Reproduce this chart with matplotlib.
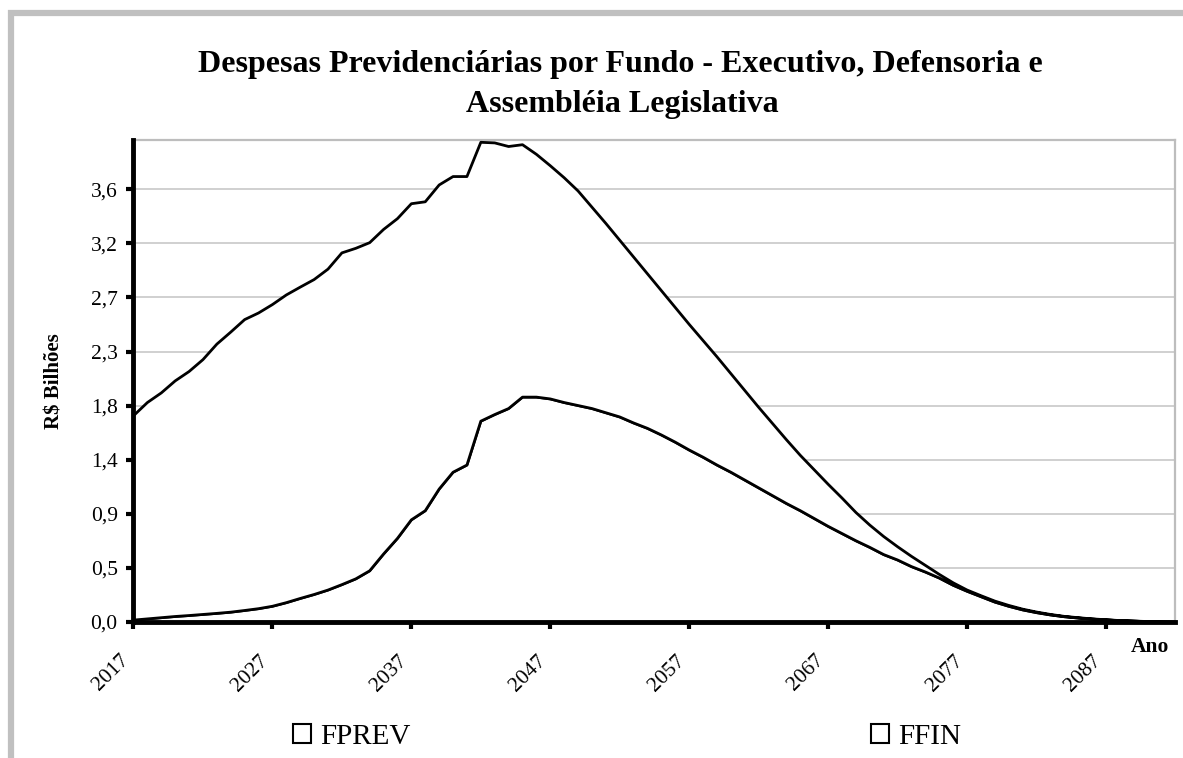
import matplotlib
matplotlib.use('Agg')
import matplotlib.pyplot as plt
import matplotlib.transforms as mtransforms
from matplotlib.patches import Patch, Rectangle

plt.rcParams['font.family'] = ['Liberation Serif', 'DejaVu Serif']

title_lines = ['Despesas Previdenciárias por Fundo - Executivo, Defensoria e',
               'Assembléia Legislativa']
ylabel = 'R$ Bilhões'
xlabel = 'Ano'
series_names = ['FPREV', 'FFIN']

years = list(range(2017, 2093))

# stacked: FPREV at the bottom, FFIN on top (R$ bilhões)
fprev = [0.02, 0.03, 0.04, 0.05, 0.058, 0.067, 0.076, 0.086, 0.10, 0.115,   # 2017-2026
         0.135, 0.165, 0.20, 0.233, 0.27, 0.315, 0.363, 0.43, 0.57, 0.70,   # 2027-2036
         0.854, 0.93, 1.11, 1.25, 1.31, 1.675, 1.73, 1.78, 1.875, 1.875,    # 2037-2046
         1.86, 1.83, 1.805, 1.78, 1.745, 1.71, 1.66, 1.615, 1.56, 1.50,     # 2047-2056
         1.435, 1.375, 1.31, 1.25, 1.185, 1.12, 1.055, 0.99, 0.93, 0.865,   # 2057-2066
         0.80, 0.74, 0.68, 0.625, 0.565, 0.52, 0.465, 0.42, 0.37, 0.31,     # 2067-2076
         0.26, 0.215, 0.17, 0.135, 0.105, 0.082, 0.063, 0.048, 0.037, 0.028,  # 2077-2086
         0.021, 0.015, 0.011, 0.007, 0.004, 0.002]                         # 2087-2092
ffin = [1.70, 1.80, 1.87, 1.96, 2.03, 2.12, 2.24, 2.33, 2.42, 2.46,
        2.51, 2.56, 2.59, 2.62, 2.67, 2.76, 2.75, 2.73, 2.70, 2.66,
        2.63, 2.57, 2.53, 2.46, 2.40, 2.32, 2.26, 2.18, 2.10, 2.02,
        1.94, 1.87, 1.785, 1.675, 1.575, 1.47, 1.38, 1.285, 1.20, 1.12,
        1.045, 0.97, 0.90, 0.82, 0.745, 0.67, 0.60, 0.53, 0.46, 0.405,
        0.35, 0.295, 0.235, 0.185, 0.15, 0.11, 0.085, 0.055, 0.03, 0.02,
        0.01, 0.008, 0.008, 0.007, 0.006, 0.005, 0.004, 0.003, 0.003, 0.002,
        0.002, 0.001, 0.001, 0.001, 0.001, 0.001]

ytick_vals = [0, 0.45, 0.9, 1.35, 1.8, 2.25, 2.7, 3.15, 3.6]
ytick_labels = ['0,0', '0,5', '0,9', '1,4', '1,8', '2,3', '2,7', '3,2', '3,6']
xtick_vals = [2017, 2027, 2037, 2047, 2057, 2067, 2077, 2087]

W, H = 1183, 758
fig = plt.figure(figsize=(W / 100, H / 100), dpi=100)
fig.patch.set_facecolor('white')

# chart-area frame (clipped at right and bottom like in the source)
fig.patches.append(Rectangle((11 / W, -0.1), 1.2, 1 - 13 / H + 0.1,
                             transform=fig.transFigure, fill=False,
                             edgecolor='#c0c0c0', lw=4.5, zorder=0))

ax = fig.add_axes([133 / W, 1 - 622 / H, (1175 - 133) / W, (622 - 140) / H])
ax.stackplot(years, fprev, ffin, colors=['white', 'white'],
             edgecolor='black', linewidth=2.0, zorder=3)

ax.set_xlim(2017, 2092)
ax.set_ylim(0, 4.01)
ax.set_yticks(ytick_vals)
ax.set_yticklabels(ytick_labels, fontsize=15.5)
ax.set_xticks(xtick_vals)
ax.set_xticklabels([str(y) for y in xtick_vals], fontsize=15.5,
                   rotation=45, ha='right')
offset = mtransforms.ScaledTranslation(-9 / 100, 0, fig.dpi_scale_trans)
for lbl in ax.get_xticklabels():
    lbl.set_transform(lbl.get_transform() + offset)

ax.grid(axis='y', color='#c8c8c8', linewidth=1.2, zorder=1)
ax.set_axisbelow(True)
ax.tick_params(axis='both', direction='out', length=5, width=3, color='black')
ax.tick_params(axis='y', pad=6)
ax.tick_params(axis='x', pad=16)

for side in ['left', 'bottom']:
    ax.spines[side].set_linewidth(3.5)
    ax.spines[side].set_color('black')
    ax.spines[side].set_zorder(5)
for side in ['top', 'right']:
    ax.spines[side].set_linewidth(1.6)
    ax.spines[side].set_color('#bdbdbd')

fig.text(620 / W, 1 - 72 / H, title_lines[0], ha='center', va='baseline',
         fontsize=23, fontweight='bold')
fig.text(622 / W, 1 - 112 / H, title_lines[1], ha='center', va='baseline',
         fontsize=23, fontweight='bold')

fig.text(55 / W, 1 - 381 / H, ylabel, rotation=90, ha='center', va='center',
         fontsize=15, fontweight='bold')
fig.text(1150 / W, 1 - 647 / H, xlabel, ha='center', va='center',
         fontsize=15.5, fontweight='bold')

# legend entries, spread apart like the source
legend_x = [293, 871]
for name, lx in zip(series_names, legend_x):
    h = Patch(facecolor='white', edgecolor='black', linewidth=1.5)
    fig.legend(handles=[h], labels=[name], loc='center left',
               bbox_to_anchor=(lx / W, 1 - 737 / H), frameon=False,
               fontsize=21, handlelength=0.62, handleheight=0.62,
               handletextpad=0.3, borderpad=0, borderaxespad=0)

fig.savefig('out.png', dpi=100)
